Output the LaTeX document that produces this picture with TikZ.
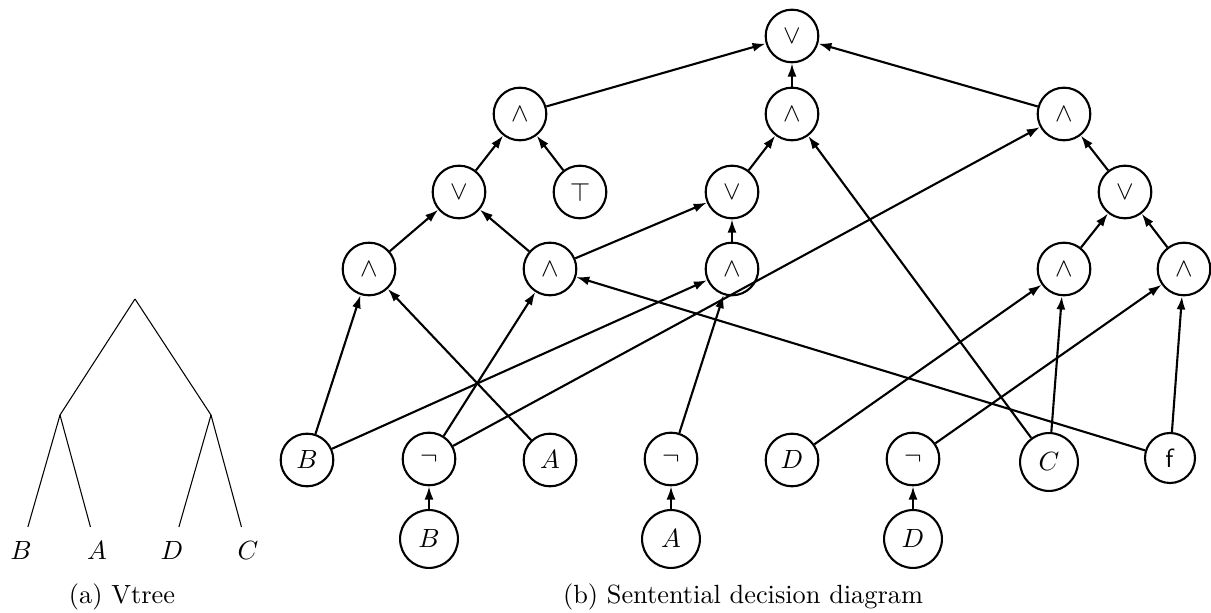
\documentclass[tikz,border=0pt]{standalone}
\usepackage{amsmath}
\usepackage{amssymb}
\usetikzlibrary{arrows.meta}
\tikzset{
  gate/.style={ draw, circle, line width=0.8pt, minimum size=20pt, inner sep=1pt }
}
\tikzset{
  biggate/.style={ gate, minimum size=22pt }
}
\tikzset{
  wire/.style={ line width=0.8pt, -{Latex[length=5pt, width=3.4pt]} }
}
\tikzset{
  leaf/.style={ inner sep=5.5pt }
}
\begin{document}
\begin{tikzpicture}[x=0.38pt, y=-0.38pt]

      \useasboundingbox (0,0) rectangle (1211,613);

      % vtree
      \coordinate (vroot) at (135, 299);
      \coordinate (vleft) at (60, 415);
      \coordinate (vright) at (211, 415);
      \node[leaf] (vB) at (21, 551) {$B$};
      \node[leaf] (vA) at (97, 551) {$A$};
      \node[leaf] (vD) at (172, 551) {$D$};
      \node[leaf] (vC) at (248, 551) {$C$};
      \draw (vroot) -- (vleft);
      \draw (vroot) -- (vright);
      \draw (vleft) -- (vB);
      \draw (vleft) -- (vA);
      \draw (vright) -- (vD);
      \draw (vright) -- (vC);
      \node[anchor=base] (capa) at (122, 604) {(a) Vtree};

      % sdd
      \node[gate] (or0) at (792, 36) {$\vee$};
      \node[gate] (and1) at (520, 114) {$\wedge$};
      \node[gate] (and2) at (792, 114) {$\wedge$};
      \node[gate] (and3) at (1064, 114) {$\wedge$};
      \node[gate] (or1) at (459, 192) {$\vee$};
      \node[gate] (top) at (580, 192) {$\top$};
      \node[gate] (or2) at (732, 192) {$\vee$};
      \node[gate] (or3) at (1125, 192) {$\vee$};
      \node[gate] (and4) at (369, 269) {$\wedge$};
      \node[gate] (and5) at (550, 269) {$\wedge$};
      \node[gate] (and6) at (732, 269) {$\wedge$};
      \node[gate] (and7) at (1064, 269) {$\wedge$};
      \node[gate] (and8) at (1184, 269) {$\wedge$};

      \node[gate] (lB) at (307, 460) {$B$};
      \node[gate] (nB) at (429, 459) {$\neg$};
      \node[gate] (lA) at (550, 460) {$A$};
      \node[gate] (nA) at (671, 459) {$\neg$};
      \node[gate] (lD) at (792, 460) {$D$};
      \node[gate] (nD) at (913, 459) {$\neg$};
      \node[biggate] (lC) at (1049, 462) {$C$};
      \node[gate, minimum size=19pt] (lf) at (1170, 458) {\textsf{f}};

      \node[biggate] (vlB) at (429, 539) {$B$};
      \node[biggate] (vlA) at (671, 539) {$A$};
      \node[biggate] (vlD) at (913, 539) {$D$};

      \draw[wire] (and1) edge (or0);
      \draw[wire] (and2) edge (or0);
      \draw[wire] (and3) edge (or0);
      \draw[wire] (or1) edge (and1);
      \draw[wire] (top) edge (and1);
      \draw[wire] (or2) edge (and2);
      \draw[wire] (lC) edge (and2);
      \draw[wire] (or3) edge (and3);
      \draw[wire] (nB) edge (and3);
      \draw[wire] (and4) edge (or1);
      \draw[wire] (and5) edge (or1);
      \draw[wire] (and5) edge (or2);
      \draw[wire] (and6) edge (or2);
      \draw[wire] (and7) edge (or3);
      \draw[wire] (and8) edge (or3);
      \draw[wire] (lB) edge (and4);
      \draw[wire] (lA) edge (and4);
      \draw[wire] (nB) edge (and5);
      \draw[wire] (lf) edge (and5);
      \draw[wire] (lB) edge (and6);
      \draw[wire] (nA) edge (and6);
      \draw[wire] (lD) edge (and7);
      \draw[wire] (lC) edge (and7);
      \draw[wire] (nD) edge (and8);
      \draw[wire] (lf) edge (and8);
      \draw[wire] (vlB) edge (nB);
      \draw[wire] (vlA) edge (nA);
      \draw[wire] (vlD) edge (nD);

      \node[anchor=base] (capb) at (743, 604) {(b) Sentential decision diagram};
    \end{tikzpicture}
\end{document}
